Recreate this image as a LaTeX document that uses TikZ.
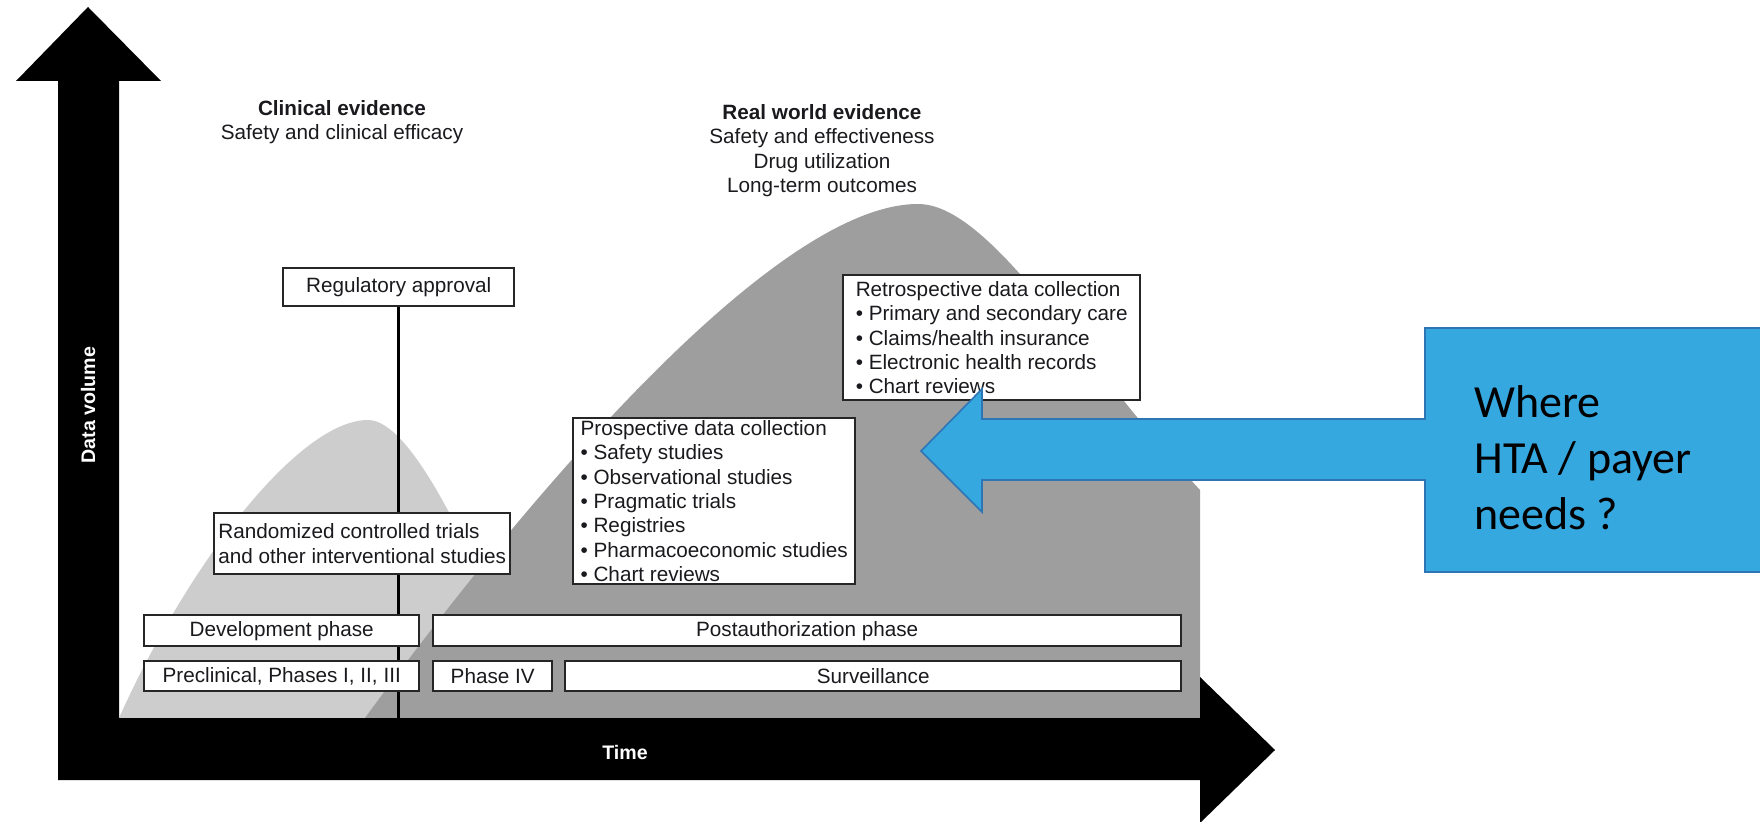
\documentclass[tikz,border=0pt]{standalone}
\usepackage{fontspec}
\setmainfont{Liberation Sans}
\newfontfamily\calibrifont{Carlito}
\newcommand\diagfont{\fontsize{10.35}{12.2}\selectfont}
\definecolor{hlight}{RGB}{205,205,205}
\definecolor{hdark}{RGB}{158,158,158}
\definecolor{callblue}{RGB}{54,168,224}
\definecolor{callborder}{RGB}{46,117,182}
\definecolor{inktext}{RGB}{26,26,30}
\begin{document}
\begin{tikzpicture}[x=0.5pt,y=-0.5pt,
  box/.style={draw=black!85, line width=1.2pt, fill=white, inner sep=0pt,
    font=\diagfont, text=inktext, anchor=north west},
  lbox/.style={box, align=left},
  head/.style={font=\diagfont, text=inktext, align=center, inner sep=0pt, anchor=north},
  axislabel/.style={font=\fontsize{9.8}{11}\selectfont\bfseries, text=white, inner sep=0pt},
  callout/.style={fill=callblue, draw=callborder, line width=0.8pt}]
\useasboundingbox (0,0) rectangle (1760,822);

% evidence humps
\fill[hlight] (119,718) .. controls (190,560) and (300,420) .. (368,420)
  .. controls (410,420) and (470,540) .. (540,718) -- cycle;
\fill[hdark] (365,718) .. controls (480,560) and (760,204) .. (918,204)
  .. controls (990,204) and (1080,360) .. (1200,490) -- (1200,718) -- cycle;

% axes
\fill[black] (58,780) -- (58,81) -- (16,81) -- (88,7) -- (161,81) -- (119,81)
  -- (119,718) -- (1200,718) -- (1200,677) -- (1275,750) -- (1200,823)
  -- (1200,780) -- cycle;
\node[axislabel, rotate=90] (dv) at (88,405) {Data volume};
\node[axislabel] (time) at (625,752) {Time};

% regulatory approval and its line
\node[box, minimum width=115.5pt, minimum height=19pt] (reg) at (282,267) {Regulatory approval};
\coordinate (axtop) at (396,718);
\draw[line width=1.6pt] (reg.south) -- (reg.south |- axtop);

% boxes
\node[lbox, minimum width=148pt, minimum height=30.5pt] (rct) at (213,512)
  {Randomized controlled trials\\and other interventional studies};
\node[box, minimum width=137.5pt, minimum height=15.5pt] (dev) at (143,614) {Development phase};
\node[box, minimum width=137.5pt, minimum height=15pt] (pre) at (143,660) {Preclinical, Phases I, II, III};
\node[box, minimum width=374pt, minimum height=15.5pt] (post) at (432,614) {Postauthorization phase};
\node[box, minimum width=59.5pt, minimum height=15pt] (ph4) at (432,660) {Phase IV};
\node[box, minimum width=308pt, minimum height=15pt] (surv) at (564,660) {Surveillance};
\node[lbox, minimum width=141pt, minimum height=83pt] (pro) at (572,417)
  {Prospective data collection\\• Safety studies\\• Observational studies\\• Pragmatic trials\\• Registries\\• Pharmacoeconomic studies\\• Chart reviews};
\node[lbox, minimum width=148.5pt, minimum height=62.5pt] (retro) at (842,274)
  {Retrospective data collection\\• Primary and secondary care\\• Claims/health insurance\\• Electronic health records\\• Chart reviews};

% headings
\node[head] (clin) at (342,100) {\textbf{Clinical evidence}\\Safety and clinical efficacy};
\node[head] (rwe) at (822,104) {\textbf{Real world evidence}\\Safety and effectiveness\\Drug utilization\\Long-term outcomes};

% callout
\path[callout] (1766,328) -- (1425,328) -- (1425,419) -- (982,419) -- (982,389)
  -- (921,451) -- (982,512) -- (982,480) -- (1425,480) -- (1425,572)
  -- (1766,572) -- cycle;
\node[anchor=north west, inner sep=0pt, align=left, text=black,
  font=\calibrifont\fontsize{23}{28}\selectfont] (hta) at (1474,385)
  {Where\\HTA / payer\\needs ?};
\end{tikzpicture}
\end{document}
